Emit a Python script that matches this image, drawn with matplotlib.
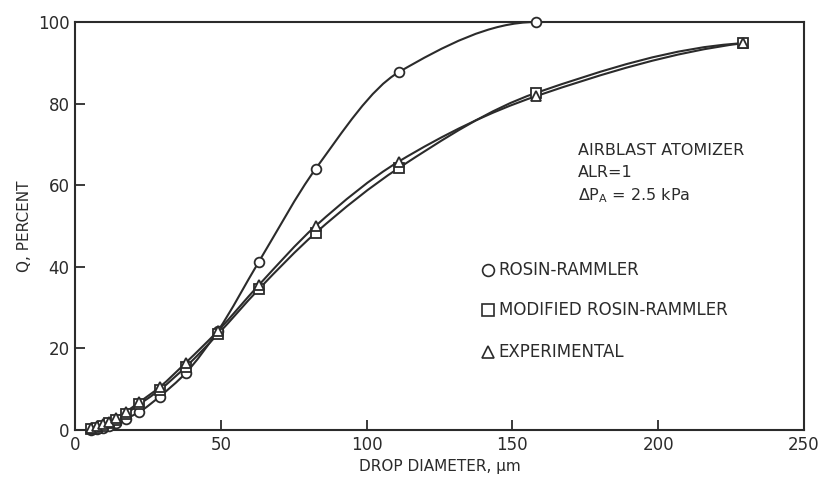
import numpy as np
import matplotlib
matplotlib.use("Agg")
import matplotlib.pyplot as plt
from matplotlib.path import Path
from matplotlib.patches import PathPatch

plt.rcParams['font.family'] = ['DejaVu Sans']
plt.rcParams['mathtext.default'] = 'regular'

# drop size classes (um) and cumulative volume fraction Q (%)
diam = [5.5, 7.5, 9.5, 11.5, 14, 17.5, 22, 29, 38, 49, 63, 82.5, 111, 158, 229]
q_rosin = [0.1, 0.3, 0.6, 1.0, 1.8, 2.8, 4.4, 8.2, 14.0, 24.3, 41.2, 64.0, 87.7, 100.0]
q_modified = [0.3, 0.6, 1.0, 1.6, 2.5, 4.0, 6.3, 9.8, 15.5, 23.5, 34.5, 48.3, 64.2, 82.6, 94.8]
q_exp = [0.5, 0.9, 1.4, 2.0, 3.0, 4.5, 6.8, 10.5, 16.5, 24.3, 35.5, 50.0, 65.8, 81.8, 94.8]

INK = '#2b2b2b'


def pchip_slopes(x, y):
    # monotone (Fritsch-Carlson) slopes, same end rule as scipy's pchip
    h = np.diff(x)
    delta = np.diff(y) / h
    n = len(x)
    d = np.zeros(n)
    for k in range(1, n - 1):
        if delta[k - 1] * delta[k] > 0:
            w1 = 2 * h[k] + h[k - 1]
            w2 = h[k] + 2 * h[k - 1]
            d[k] = (w1 + w2) / (w1 / delta[k - 1] + w2 / delta[k])

    def end(h0, h1, m0, m1):
        s = ((2 * h0 + h1) * m0 - h0 * m1) / (h0 + h1)
        if np.sign(s) != np.sign(m0):
            return 0.0
        if np.sign(m0) != np.sign(m1) and abs(s) > abs(3 * m0):
            return 3 * m0
        return s

    d[0] = end(h[0], h[1], delta[0], delta[1])
    d[-1] = end(h[-1], h[-2], delta[-1], delta[-2])
    return d


def smooth_path(x, y):
    # hermite segments written as cubic beziers
    x = np.asarray(x, float)
    y = np.asarray(y, float)
    d = pchip_slopes(x, y)
    verts = [(x[0], y[0])]
    codes = [Path.MOVETO]
    for i in range(len(x) - 1):
        h = x[i + 1] - x[i]
        verts += [(x[i] + h / 3, y[i] + h * d[i] / 3),
                  (x[i + 1] - h / 3, y[i + 1] - h * d[i + 1] / 3),
                  (x[i + 1], y[i + 1])]
        codes += [Path.CURVE4] * 3
    return Path(verts, codes)


fig = plt.figure(figsize=(8.2, 4.83), dpi=100)
ax = fig.add_axes([0.0915, 0.1097, 0.889, 0.8447])

series = [
    (q_rosin, 'o'),
    (q_modified, 's'),
    (q_exp, '^'),
]
for q, mk in series:
    x = diam[:len(q)]
    ax.add_patch(PathPatch(smooth_path(x, q), fill=False, ec=INK, lw=1.5, zorder=2))
    ax.plot(x, q, ls='none', marker=mk, ms=7 if mk != '^' else 6.5,
            mfc='white', mec=INK, mew=1.3, zorder=3, clip_on=False)

ax.set_xlim(0, 250)
ax.set_ylim(0, 100)
ax.set_xticks([0, 50, 100, 150, 200, 250])
ax.set_yticks([0, 20, 40, 60, 80, 100])
ax.tick_params(direction='in', length=7, width=1.3, colors=INK, labelsize=12, pad=4)
for s in ax.spines.values():
    s.set_linewidth(1.5)
    s.set_color(INK)

ax.set_xlabel('DROP DIAMETER, μm', fontsize=11, color=INK, labelpad=4)
ax.set_ylabel('Q, PERCENT', fontsize=11, color=INK, labelpad=4)

# condition block
ax.text(0.69, 0.686, 'AIRBLAST ATOMIZER', transform=ax.transAxes, fontsize=11.5,
        color=INK, va='center')
ax.text(0.69, 0.630, 'ALR=1', transform=ax.transAxes, fontsize=11.5,
        color=INK, va='center')
ax.text(0.69, 0.574, r'$\Delta$P$_A$ = 2.5 kPa', transform=ax.transAxes, fontsize=11.5,
        color=INK, va='center')

# key
key = [('o', 'ROSIN-RAMMLER', 0.392),
       ('s', 'MODIFIED ROSIN-RAMMLER', 0.294),
       ('^', 'EXPERIMENTAL', 0.191)]
for mk, label, yy in key:
    ax.plot([0.567], [yy], transform=ax.transAxes, marker=mk, ms=8.5,
            mfc='white', mec=INK, mew=1.2, ls='none')
    ax.text(0.581, yy, label, transform=ax.transAxes, fontsize=12,
            color=INK, va='center')

fig.savefig('out.png', dpi=100)
